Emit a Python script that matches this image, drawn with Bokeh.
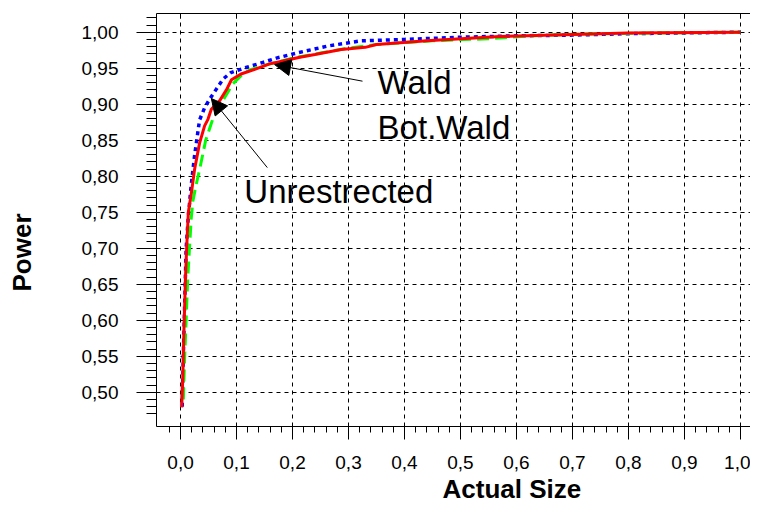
from bokeh.plotting import figure
from bokeh.models import Range1d, FixedTicker, LinearAxis, Arrow, NormalHead, Label, Title
from bokeh.embed import file_html
from bokeh.resources import INLINE

# ---------------- data ----------------
unr_x = [0.002, 0.004, 0.006, 0.009, 0.011, 0.014, 0.017, 0.020, 0.025, 0.034, 0.043, 0.049,
         0.055, 0.070, 0.082, 0.091, 0.108, 0.135, 0.159, 0.183, 0.211, 0.240, 0.287, 0.330,
         0.350, 0.440, 0.570, 0.700, 0.800, 1.000]
unr_y = [0.479, 0.518, 0.583, 0.662, 0.701, 0.750, 0.765, 0.780, 0.809, 0.846, 0.870, 0.879,
         0.893, 0.905, 0.920, 0.934, 0.942, 0.949, 0.956, 0.960, 0.965, 0.969, 0.976, 0.979,
         0.983, 0.988, 0.994, 0.997, 0.999, 1.000]

wald_x = [0.003, 0.005, 0.008, 0.010, 0.014, 0.019, 0.025, 0.034, 0.043, 0.052, 0.064, 0.076,
          0.090, 0.117, 0.147, 0.171, 0.207, 0.264, 0.322, 0.400, 0.500, 0.600, 0.700, 0.800,
          0.900, 1.000]
wald_y = [0.480, 0.550, 0.640, 0.699, 0.745, 0.787, 0.828, 0.878, 0.895, 0.907, 0.921, 0.935,
          0.944, 0.951, 0.958, 0.964, 0.971, 0.981, 0.988, 0.990, 0.993, 0.995, 0.996, 0.998,
          0.999, 1.000]

bot_x = [0.005, 0.007, 0.010, 0.013, 0.016, 0.019, 0.022, 0.027, 0.034, 0.045, 0.057, 0.070,
         0.084, 0.093, 0.111, 0.125, 0.150, 0.200, 0.250, 0.300, 0.350, 0.450, 0.550, 0.650,
         0.750, 0.850, 1.000]
bot_y = [0.490, 0.540, 0.600, 0.660, 0.700, 0.740, 0.765, 0.785, 0.809, 0.850, 0.878, 0.898,
         0.916, 0.928, 0.942, 0.948, 0.954, 0.964, 0.971, 0.978, 0.983, 0.988, 0.991, 0.996,
         0.998, 0.999, 1.000]

x_ticks = [0.0, 0.1, 0.2, 0.3, 0.4, 0.5, 0.6, 0.7, 0.8, 0.9, 1.0]
x_tick_labels = ["0,0", "0,1", "0,2", "0,3", "0,4", "0,5", "0,6", "0,7", "0,8", "0,9", "1,0"]
y_ticks = [0.5, 0.55, 0.6, 0.65, 0.7, 0.75, 0.8, 0.85, 0.9, 0.95, 1.0]
y_tick_labels = ["0,50", "0,55", "0,60", "0,65", "0,70", "0,75", "0,80", "0,85", "0,90",
                 "0,95", "1,00"]
x_minor = [round(-0.02 + 0.02 * i, 2) for i in range(53)]
y_minor = [round(0.47 + 0.01 * i, 2) for i in range(56)]

FONT = "Liberation Sans"

# ---------------- figure ----------------
p = figure(width=750, height=506, output_backend="svg", toolbar_location=None,
           x_range=Range1d(-0.0429, 1.018), y_range=Range1d(0.4524, 1.026),
           min_border_left=156, min_border_right=0, min_border_top=13, min_border_bottom=80)
p.outline_line_color = None
p.background_fill_color = "white"
p.border_fill_color = "white"

xa = p.xaxis[0]
xa.ticker = FixedTicker(ticks=x_ticks, minor_ticks=x_minor)
xa.major_label_overrides = dict(zip(x_ticks, x_tick_labels))
ya = p.yaxis[0]
ya.ticker = FixedTicker(ticks=y_ticks, minor_ticks=y_minor)
ya.major_label_overrides = dict(zip(y_ticks, y_tick_labels))

for ax in (xa, ya):
    ax.axis_line_color = "black"
    ax.major_tick_line_color = "black"
    ax.minor_tick_line_color = "black"
    ax.major_label_text_font = FONT
    ax.major_label_text_font_size = "19px"
    ax.major_label_text_color = "black"
    ax.minor_tick_in = 0

xa.major_tick_in = 3
xa.major_tick_out = 13
xa.minor_tick_out = 6
xa.major_label_standoff = 16
ya.major_tick_in = 2
ya.major_tick_out = 20
ya.minor_tick_out = 10
ya.major_label_standoff = 18

top = LinearAxis(ticker=FixedTicker(ticks=x_ticks, minor_ticks=[]),
                 major_tick_in=5, major_tick_out=0, minor_tick_in=0, minor_tick_out=0,
                 major_label_text_color=None, major_label_standoff=0,
                 axis_line_color="black", major_tick_line_color="black")
p.add_layout(top, "above")

# invisible spacer between the y tick labels and the y title
spacer = LinearAxis(ticker=FixedTicker(ticks=[0.75], minor_ticks=[]),
                    major_tick_in=0, major_tick_out=40, minor_tick_in=0, minor_tick_out=0,
                    axis_line_color=None, major_tick_line_color="white",
                    minor_tick_line_color=None, major_label_text_color=None,
                    major_label_standoff=0)
p.add_layout(spacer, "left")

p.xgrid.ticker = FixedTicker(ticks=x_ticks)
p.ygrid.ticker = FixedTicker(ticks=y_ticks)
for g in (p.xgrid, p.ygrid):
    g.grid_line_color = "black"
    g.grid_line_dash = "4 4"
    g.grid_line_width = 1

# ---------------- series ----------------
p.line(wald_x, wald_y, line_color="#0000ff", line_width=3.5, line_dash="4 4")
p.line(bot_x, bot_y, line_color="#00ff00", line_width=3, line_dash="12 6")
p.line(unr_x, unr_y, line_color="#ff0000", line_width=3)

# ---------------- annotations ----------------
p.add_layout(Arrow(end=NormalHead(size=16, fill_color="black", line_color="black"),
                   x_start=0.325, y_start=0.932, x_end=0.168, y_end=0.955,
                   line_color="black", line_width=1))
p.add_layout(Arrow(end=NormalHead(size=16, fill_color="black", line_color="black"),
                   x_start=0.155, y_start=0.812, x_end=0.055, y_end=0.908,
                   line_color="black", line_width=1))

for tx, ty, t in [(0.352, 0.930, "Wald"), (0.352, 0.868, "Bot.Wald"), (0.114, 0.779, "Unrestrected")]:
    p.add_layout(Label(x=tx, y=ty, text=t, text_font=FONT, text_font_size="33px",
                       text_baseline="middle", text_align="left", text_color="black"))

# axis titles
p.add_layout(Title(text="Actual Size", text_font=FONT, text_font_size="26px",
                   text_font_style="bold", text_color="black", align="left", offset=286,
                   vertical_align="bottom", standoff=0), "below")
p.add_layout(Title(text="Power", text_font=FONT, text_font_size="26px",
                   text_font_style="bold", text_color="black", align="left", offset=135,
                   vertical_align="top", standoff=0), "left")

open("out.html", "w").write(file_html(p, INLINE))
